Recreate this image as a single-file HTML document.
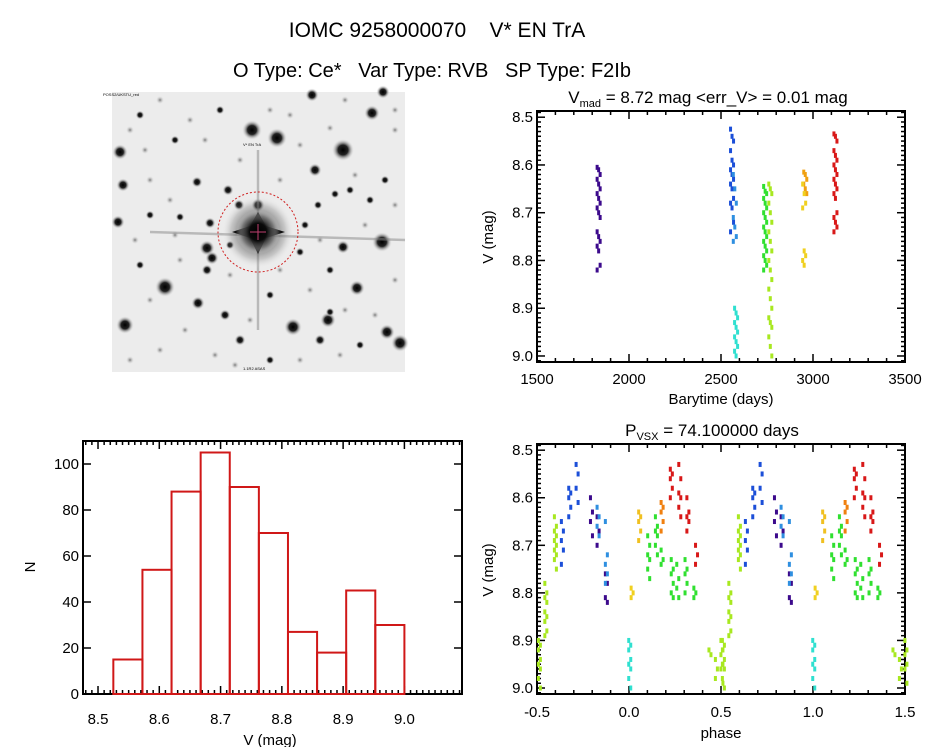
<!DOCTYPE html>
<html><head><meta charset="utf-8">
<style>
html,body{margin:0;padding:0;background:#fff;}
body{width:944px;height:747px;overflow:hidden;font-family:"Liberation Sans",sans-serif;}
svg text{font-family:"Liberation Sans",sans-serif;fill:#000;}
</style></head>
<body>
<svg id="fig" width="944" height="747" viewBox="0 0 944 747" xmlns="http://www.w3.org/2000/svg">
<defs>
<radialGradient id="st"><stop offset="0" stop-color="#000"/><stop offset="0.45" stop-color="#222"/><stop offset="1" stop-color="#ddd" stop-opacity="0"/></radialGradient>
<radialGradient id="fs"><stop offset="0" stop-color="#777"/><stop offset="1" stop-color="#ddd" stop-opacity="0"/></radialGradient>
<radialGradient id="bs"><stop offset="0" stop-color="#000"/><stop offset="0.4" stop-color="#0a0a0a"/><stop offset="0.75" stop-color="#777" stop-opacity="0.6"/><stop offset="1" stop-color="#eee" stop-opacity="0"/></radialGradient>
</defs>
<text x="437" y="37" font-size="21" text-anchor="middle" xml:space="preserve">IOMC 9258000070    V* EN TrA</text>
<text x="432" y="77" font-size="20" text-anchor="middle" xml:space="preserve">O Type: Ce*   Var Type: RVB   SP Type: F2Ib</text>
<g id="img"></g>
<g id="lc"></g>
<g id="hist"></g>
<g id="ph"></g>
</svg>
<script>
// ---------- DATA ----------
const lcTimes = [1835, 2560, 2575, 2582, 2740, 2768, 2958, 2952, 3122];
const lcColors = ["#3c0a8c","#1c4fd8","#2f8fe0","#30e0d0","#30e030","#a8e820","#f0a010","#f0d020","#d81818"];
const lcMags = [
 [8.605,8.61,8.62,8.63,8.64,8.65,8.66,8.67,8.68,8.69,8.70,8.71,8.74,8.75,8.76,8.77,8.78,8.81,8.82],
 [8.525,8.54,8.55,8.57,8.59,8.60,8.61,8.62,8.63,8.64,8.65,8.67,8.68,8.69,8.72,8.74],
 [8.62,8.65,8.68,8.71,8.73,8.75,8.76],
 [8.90,8.91,8.92,8.93,8.94,8.95,8.96,8.97,8.98,8.99,9.00],
 [8.645,8.655,8.66,8.67,8.68,8.69,8.70,8.71,8.72,8.73,8.74,8.75,8.76,8.77,8.78,8.79,8.80,8.81,8.82],
 [8.64,8.65,8.66,8.68,8.70,8.72,8.74,8.76,8.78,8.80,8.82,8.84,8.86,8.88,8.90,8.92,8.93,8.94,8.96,8.98,9.00],
 [8.615,8.62,8.63,8.64,8.65,8.66],
 [8.64,8.66,8.68,8.69,8.78,8.79,8.80,8.81],
 [8.535,8.54,8.55,8.57,8.58,8.59,8.60,8.61,8.62,8.63,8.64,8.65,8.66,8.67,8.70,8.71,8.72,8.73,8.74]
];
const histEdges = [8.525,8.5725,8.62,8.6675,8.715,8.7625,8.81,8.8575,8.905,8.9525,9.0];
const histCounts = [15,54,88,105,90,70,27,18,45,30];
const phPhases = [-0.487,-0.452,-0.40,0.44,0.475,0.505,-0.362,-0.322,-0.282,-0.204,-0.168,-0.123,-0.168,-0.123,0.004,0.017,0.058,0.107,0.149,0.18,0.235,0.265,0.31,0.358,0.18,0.23,0.276,0.32,0.367];
const phColors = ["#a8e820","#a8e820","#a8e820","#a8e820","#a8e820","#a8e820","#1c4fd8","#1c4fd8","#1c4fd8","#3c0a8c","#3c0a8c","#3c0a8c","#2f8fe0","#2f8fe0","#30e0d0","#f0d020","#f0c020","#30e030","#30e030","#30e030","#30e030","#30e030","#30e030","#30e030","#f08010","#d81818","#d81818","#d81818","#d81818"];
const phMags = [
 [8.90,8.91,8.92,8.94,8.95,8.96,8.98,9.00],[8.78,8.80,8.81,8.82,8.84,8.85,8.86,8.88,8.89],[8.64,8.66,8.67,8.68,8.69,8.70,8.71,8.72,8.73,8.75],
 [8.92,8.93],[8.94,8.96,8.98],[8.90,8.92,8.93,8.95,8.96,8.99],
 [8.65,8.67,8.69,8.71,8.74],[8.58,8.59,8.60,8.62,8.64],[8.53,8.55,8.58,8.61],
 [8.60,8.63,8.65,8.68],[8.64,8.67,8.70],[8.76,8.78,8.81,8.82],
 [8.62,8.64,8.66,8.68],[8.65,8.72,8.74,8.76,8.78],
 [8.90,8.91,8.92,8.94,8.95,8.96,8.98,9.00],[8.79,8.80,8.81],[8.63,8.64,8.65,8.67,8.69],
 [8.68,8.70,8.72,8.73,8.75,8.77],[8.64,8.66,8.67,8.68,8.70,8.72],[8.71,8.73,8.74],[8.73,8.75,8.76,8.78,8.80,8.81],[8.74,8.77,8.79,8.81],[8.73,8.75,8.76,8.78,8.80],[8.79,8.80,8.81],
 [8.61,8.62,8.63,8.65,8.67],[8.54,8.55,8.56,8.58,8.60],[8.53,8.56,8.59,8.60,8.62,8.64],[8.60,8.63,8.64,8.65,8.67],[8.70,8.72,8.74]
];
const stars = [[252,130,9],[277,138,9],[343,150,10],[372,113,7],[312,95,6],[383,92,6],[120,152,7],[382,242,9],[207,248,7],[165,287,9],[357,288,7],[198,303,6],[125,325,8],[293,327,8],[328,320,7],[387,332,7],[400,343,8],[118,222,6],[315,170,6],[343,247,6],[258,205,6],[197,182,5],[228,190,5],[123,185,6],[210,223,5],[239,205,5],[318,205,4],[300,252,4],[212,258,6],[207,270,5],[330,312,4],[270,295,4],[225,315,5],[335,194,4],[150,215,4],[180,217,4],[270,360,4],[240,340,5],[320,340,5],[360,345,4],[140,115,4],[220,110,4],[330,270,4],[350,190,4],[175,140,4],[370,200,4],[385,180,4],[140,265,4],[230,245,4],[305,225,4]];
const faint = [[130,130],[160,100],[190,120],[205,140],[290,115],[300,145],[330,128],[355,175],[395,130],[395,205],[150,180],[170,200],[135,240],[180,260],[150,300],[185,330],[215,355],[250,320],[280,270],[310,290],[345,310],[375,315],[395,280],[340,355],[300,360],[160,350],[130,360],[240,160],[280,180],[365,225],[320,240],[230,275],[175,235],[270,110],[345,100],[395,110],[145,150],[235,365]];

const NS="http://www.w3.org/2000/svg";
function mk(parent, tag, attrs, txt){const e=document.createElementNS(NS,tag);for(const k in attrs)e.setAttribute(k,attrs[k]);if(txt!==undefined)e.textContent=txt;parent.appendChild(e);return e;}

// ---------- SKY IMAGE ----------
(function(){
 const g=document.getElementById('img');
 const bg=mk(g,'rect',{x:112,y:92,width:293,height:280,fill:'#ececec'});
 
 
 faint.forEach(s=>{const c=mk(g,'circle',{cx:s[0],cy:s[1],r:4,fill:'url(#fs)'});
  
  });
 stars.forEach(s=>{const c=mk(g,'circle',{cx:s[0],cy:s[1],r:s[2]*1.1,fill:'url(#st)'});
  
  });
 mk(g,'line',{x1:150,y1:232,x2:405,y2:240,stroke:'#888','stroke-width':2.5,opacity:0.5});
 mk(g,'line',{x1:258,y1:150,x2:258,y2:330,stroke:'#888','stroke-width':2.5,opacity:0.5});
 mk(g,'circle',{cx:258,cy:232,r:36,fill:'url(#bs)',opacity:0.55});
 mk(g,'path',{d:'M258,212 L266,226 L285,232 L266,238 L258,254 L250,238 L232,232 L250,226 Z',fill:'#111'});
 const t=mk(g,'circle',{cx:258,cy:232,r:22,fill:'url(#bs)'});
 
 
 const ring=mk(g,'circle',{cx:258,cy:232,r:40,fill:'none',stroke:'#d02020','stroke-width':1,'stroke-dasharray':'2,2'});
 
 
 mk(g,'line',{x1:250,y1:232,x2:266,y2:232,stroke:'#c04070','stroke-width':1});
 mk(g,'line',{x1:258,y1:224,x2:258,y2:240,stroke:'#c04070','stroke-width':1});
 const lab=mk(g,'text',{x:243,y:146,'font-size':4,fill:'#c02020'},'V* EN TrA');
 
 
 mk(g,'text',{x:103,y:96,'font-size':4,fill:'#2030a0'},'POSS2/UKSTU_red');
 mk(g,'text',{x:243,y:370,'font-size':4,fill:'#2030a0'},'1.1R2 ASAS');
})();

function fmt(v,d,neg){let x=neg?-v:v; if(Math.abs(x)<1e-9)x=0; return x.toFixed(d);}

function axes(g,L,R,T,B,xmin,xmax,ymin,ymax,xmaj,xmin_step,ymaj,ymin_step,xfmt,yfmt,xlabY){
 const sx=v=>L+(v-xmin)/(xmax-xmin)*(R-L);
 const sy=v=>B-(v-ymin)/(ymax-ymin)*(B-T);
 const fr=mk(g,'rect',{x:L,y:T,width:R-L,height:B-T,fill:'none',stroke:'#000','stroke-width':2});
 
 
 const eps=1e-9;
 const n0=Math.ceil((xmin-eps)/xmin_step), n1=Math.floor((xmax+eps)/xmin_step);
 for(let n=n0;n<=n1;n++){ const v=n*xmin_step;
  const isMaj=Math.abs(v/xmaj-Math.round(v/xmaj))<1e-6; const len=isMaj?8:4; const x=sx(v);
  mk(g,'line',{x1:x,y1:B,x2:x,y2:B-len,stroke:'#000','stroke-width':1.5});
  mk(g,'line',{x1:x,y1:T,x2:x,y2:T+len,stroke:'#000','stroke-width':1.5});
  if(isMaj&&xfmt){const tl=mk(g,'text',{x:x,y:xlabY,'font-size':15,'text-anchor':'middle'},xfmt(v));
   
   }
 }
 const m0=Math.ceil((ymin-eps)/ymin_step), m1=Math.floor((ymax+eps)/ymin_step);
 for(let n=m0;n<=m1;n++){ const v=n*ymin_step;
  const isMaj=Math.abs(v/ymaj-Math.round(v/ymaj))<1e-6; const len=isMaj?8:4; const y=sy(v);
  mk(g,'line',{x1:L,y1:y,x2:L+len,y2:y,stroke:'#000','stroke-width':1.5});
  mk(g,'line',{x1:R,y1:y,x2:R-len,y2:y,stroke:'#000','stroke-width':1.5});
  if(isMaj&&yfmt){const tl=mk(g,'text',{x:L-4,y:y+5,'font-size':15,'text-anchor':'end'},yfmt(v));
   
   }
 }
 return {sx,sy};
}

// ---------- LIGHT CURVE ----------
(function(){
 const g=document.getElementById('lc');
 const L=537,R=905,T=111,B=362;
 const ax=axes(g,L,R,T,B,1500,3500,-9.0126,-8.487,500,100,0.1,0.01,v=>fmt(v,0),v=>fmt(v,1,true),384);
 lcTimes.forEach((t,i)=>{lcMags[i].forEach((m,j)=>{
  const p=mk(g,'rect',{x:ax.sx(t)+((j%3)-1)*1.5-1.5,y:ax.sy(-m)-2.5,width:3,height:5,fill:lcColors[i]});
  
  
 });});
 const t=mk(g,'text',{x:708,y:103,'font-size':17,'text-anchor':'middle'});
 
 
 t.innerHTML='V<tspan font-size="11" dy="4">mad</tspan><tspan dy="-4"> = 8.72 mag &lt;err_V&gt; = 0.01 mag</tspan>';
 const xl=mk(g,'text',{x:721,y:404,'font-size':15,'text-anchor':'middle'},'Barytime (days)');
 
 
 const yl=mk(g,'text',{x:0,y:0,'font-size':15,'text-anchor':'middle',transform:'translate(493,237) rotate(-90)'},'V (mag)');
 
 
})();

// ---------- HISTOGRAM ----------
(function(){
 const g=document.getElementById('hist');
 const L=83,R=462,T=441,B=694;
 const ax=axes(g,L,R,T,B,8.4755,9.094,0,110,0.1,0.01,20,20,v=>fmt(v,1),v=>fmt(v,0),724);
 histCounts.forEach((c,i)=>{
  const x0=ax.sx(histEdges[i]),x1=ax.sx(histEdges[i+1]),y=ax.sy(c);
  const b=mk(g,'rect',{x:x0,y:y,width:x1-x0,height:B-y,fill:'none',stroke:'#d01818','stroke-width':2});
  
  
 });
 const xl=mk(g,'text',{x:270,y:745,'font-size':15,'text-anchor':'middle'},'V (mag)');
 
 
 const yl=mk(g,'text',{x:0,y:0,'font-size':15,'text-anchor':'middle',transform:'translate(35,567) rotate(-90)'},'N');
 
 
})();

// ---------- PHASE PLOT ----------
(function(){
 const g=document.getElementById('ph');
 const L=537,R=905,T=444,B=694;
 const ax=axes(g,L,R,T,B,-0.5,1.5,-9.0126,-8.487,0.5,0.1,0.1,0.01,v=>fmt(v,1),v=>fmt(v,1,true),717);
 phPhases.forEach((ph,i)=>{[0,1].forEach(k=>{phMags[i].forEach((m,j)=>{
  const p=mk(g,'rect',{x:ax.sx(ph+k)+((j%2)?1:-1)-1.5,y:ax.sy(-m)-2.5,width:3,height:5,fill:phColors[i]});
  
  
 });});});
 const t=mk(g,'text',{x:712,y:436,'font-size':17,'text-anchor':'middle'});
 
 
 t.innerHTML='P<tspan font-size="11" dy="4">VSX</tspan><tspan dy="-4"> = 74.100000 days</tspan>';
 const xl=mk(g,'text',{x:721,y:738,'font-size':15,'text-anchor':'middle'},'phase');
 
 
 const yl=mk(g,'text',{x:0,y:0,'font-size':15,'text-anchor':'middle',transform:'translate(493,570) rotate(-90)'},'V (mag)');
 
 
})();
</script>
</body></html>
